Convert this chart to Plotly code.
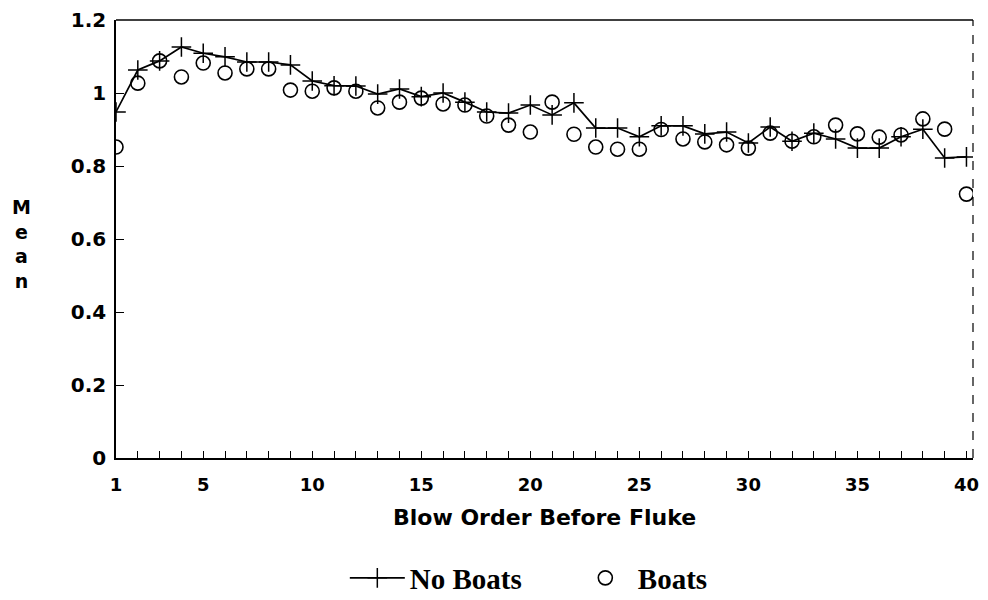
import plotly.graph_objects as go

blow_order = list(range(1, 41))
no_boats = [0.948, 1.063, 1.088, 1.126, 1.109, 1.099, 1.085, 1.085, 1.077, 1.033,
            1.020, 1.019, 0.997, 1.011, 0.990, 1.000, 0.975, 0.948, 0.945, 0.967,
            0.940, 0.973, 0.904, 0.904, 0.880, 0.910, 0.910, 0.888, 0.893, 0.863,
            0.907, 0.868, 0.890, 0.874, 0.849, 0.849, 0.880, 0.901, 0.822, 0.825]
boats = [0.852, 1.027, 1.088, 1.044, 1.082, 1.055, 1.066, 1.066, 1.008, 1.005,
         1.014, 1.005, 0.959, 0.975, 0.986, 0.970, 0.967, 0.937, 0.912, 0.893,
         0.975, 0.887, 0.852, 0.846, 0.846, 0.900, 0.874, 0.866, 0.858, 0.849,
         0.890, 0.868, 0.880, 0.912, 0.888, 0.879, 0.885, 0.929, 0.901, 0.723]
y_ticks = [0, 0.2, 0.4, 0.6, 0.8, 1.0, 1.2]
y_tick_labels = ["0", "0.2", "0.4", "0.6", "0.8", "1", "1.2"]
x_labelled = [1, 5, 10, 15, 20, 25, 30, 35, 40]
y_title_letters = ["M", "e", "a", "n"]

fig = go.Figure()
fig.add_trace(go.Scatter(
    x=blow_order, y=no_boats, mode="lines+markers", name="No Boats",
    line=dict(color="black", width=1.7),
    marker=dict(symbol="cross-thin", size=14, color="black",
                line=dict(color="black", width=1.5)),
))
fig.add_trace(go.Scatter(
    x=blow_order, y=boats, mode="markers", name="Boats",
    marker=dict(symbol="circle-open", size=14, color="black",
                line=dict(color="black", width=1.6)),
))

sans = "DejaVu Sans"
ann = [
    dict(text="<br>".join(y_title_letters), xref="paper", yref="paper",
         x=(21 - 116) / 857, y=(458 - 244) / 438,
         xanchor="center", yanchor="middle", showarrow=False, align="center",
         font=dict(family=sans, size=19, color="black", weight="bold")),
    dict(text="Blow Order Before Fluke", xref="paper", yref="paper",
         x=0.5, y=(458 - 517) / 438, xanchor="center", yanchor="middle",
         showarrow=False,
         font=dict(family=sans, size=22, color="black", weight="bold")),
]

fig.update_layout(
    width=980, height=592,
    margin=dict(l=108, r=15, t=12, b=142, autoexpand=False),
    paper_bgcolor="white", plot_bgcolor="white",
    showlegend=True,
    legend=dict(orientation="h", x=0.267, y=-0.274, xanchor="left", yanchor="middle",
                font=dict(family="Liberation Serif", size=29, color="black", weight="bold"),
                entrywidth=158, entrywidthmode="pixels", itemwidth=55),
    xaxis=dict(
        range=[1, 40.3], showgrid=False, zeroline=False,
        showline=True, linecolor="black", linewidth=1.5,
        tickmode="array", tickvals=blow_order,
        ticktext=[str(v) if v in x_labelled else "" for v in blow_order],
        ticks="inside", ticklen=7, tickwidth=1.2, tickcolor="black",
        ticklabelstandoff=10,
        tickfont=dict(family=sans, size=18, color="black", weight="bold"),
    ),
    yaxis=dict(
        range=[0, 1.2], showgrid=False, zeroline=False,
        showline=True, linecolor="black", linewidth=1.5,
        tickmode="array", tickvals=y_ticks, ticktext=y_tick_labels,
        ticks="inside", ticklen=8, tickwidth=1.2, tickcolor="black",
        ticklabelstandoff=4,
        tickfont=dict(family=sans, size=20, color="black", weight="bold"),
    ),
    annotations=ann,
    shapes=[
        dict(type="line", xref="paper", yref="paper", x0=0, x1=1, y0=1, y1=1,
             line=dict(color="black", width=1.5)),
        dict(type="line", xref="paper", yref="paper", x0=1, x1=1, y0=0, y1=1,
             line=dict(color="black", width=1.2, dash="dash")),
    ],
)

fig.write_html("out.html")
